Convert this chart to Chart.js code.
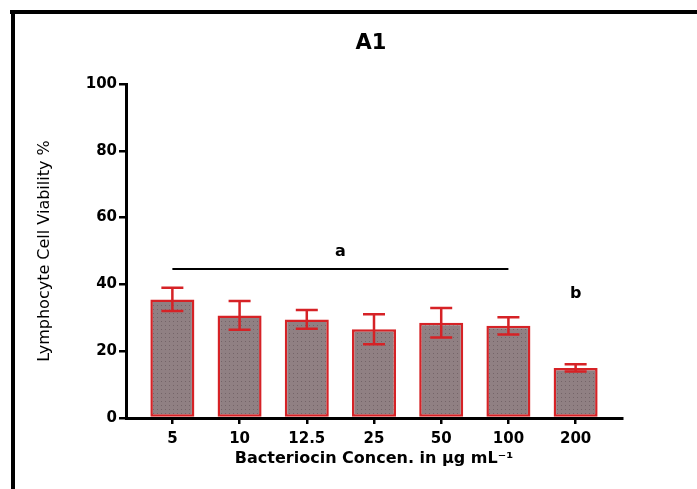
<!DOCTYPE html>
<html>
<head>
<meta charset="utf-8">
<script src="https://cdn.jsdelivr.net/npm/chart.js@4.4.1/dist/chart.umd.min.js"></script>
<style>
  html, body { margin: 0; padding: 0; background: #fff; }
  #wrap { width: 697px; height: 489px; }
</style>
</head>
<body>
<div id="wrap"><canvas id="chart" width="697" height="489"></canvas></div>
<script>
const xLabels = ["5", "10", "12.5", "25", "50", "100", "200"];
const viability = [35.5, 30.7, 29.5, 26.6, 28.5, 27.6, 15.0];
const viabilitySd = [3.5, 4.3, 2.8, 4.5, 4.4, 2.6, 1.1];
const groupLetters = ["a", "b"];

const RED = "rgb(214, 34, 38)";
const FONT = "'DejaVu Sans', Verdana, sans-serif";

// dotted grey fill like the original prism bars
const makePattern = () => {
  const c = document.createElement("canvas");
  c.width = 4;
  c.height = 4;
  const g = c.getContext("2d");
  g.fillStyle = "rgb(144, 128, 131)";
  g.fillRect(0, 0, 4, 4);
  g.fillStyle = "rgb(116, 100, 104)";
  g.fillRect(1, 1, 1, 1);
  return g.createPattern(c, "repeat");
};

const framePlugin = {
  id: "frame",
  beforeDraw: (chart) => {
    const ctx = chart.ctx;
    ctx.save();
    ctx.fillStyle = "#fff";
    ctx.fillRect(0, 0, chart.width, chart.height);
    ctx.fillStyle = "#000";
    ctx.fillRect(10, 10, chart.width - 10, 4);
    ctx.fillRect(11, 10, 4, chart.height - 10);
    ctx.restore();
  },
};

const errorBarPlugin = {
  id: "errorBars",
  afterDatasetsDraw: (chart) => {
    const ctx = chart.ctx;
    const y = chart.scales.y;
    const meta = chart.getDatasetMeta(0);
    ctx.save();
    ctx.strokeStyle = RED;
    ctx.lineWidth = 2.5;
    meta.data.forEach((bar, i) => {
      const top = y.getPixelForValue(viability[i] + viabilitySd[i]);
      const bottom = y.getPixelForValue(viability[i] - viabilitySd[i]);
      const half = 11;
      ctx.beginPath();
      ctx.moveTo(bar.x, top);
      ctx.lineTo(bar.x, bottom);
      ctx.moveTo(bar.x - half, top);
      ctx.lineTo(bar.x + half, top);
      ctx.moveTo(bar.x - half, bottom);
      ctx.lineTo(bar.x + half, bottom);
      ctx.stroke();
    });
    ctx.restore();
  },
};

const annotationPlugin = {
  id: "annotations",
  afterDraw: (chart) => {
    const ctx = chart.ctx;
    const x = chart.scales.x;
    const y = chart.scales.y;
    ctx.save();
    // title
    ctx.fillStyle = "#000";
    ctx.font = "bold 21px " + FONT;
    ctx.textAlign = "center";
    ctx.textBaseline = "middle";
    ctx.fillText("A1", 371, 44);

    // significance bracket over the first six bars
    const lineY = y.getPixelForValue(44.6);
    ctx.strokeStyle = "#000";
    ctx.lineWidth = 2;
    ctx.beginPath();
    ctx.moveTo(x.getPixelForValue(0), lineY);
    ctx.lineTo(x.getPixelForValue(5), lineY);
    ctx.stroke();

    ctx.font = "bold 16px " + FONT;
    ctx.fillText(groupLetters[0], x.getPixelForValue(2.5), y.getPixelForValue(49.8));
    ctx.fillText(groupLetters[1], x.getPixelForValue(6), y.getPixelForValue(37.3));
    ctx.restore();
  },
};

const createChartOptions = () => {
  const tickFont = { family: FONT, size: 15, weight: "bold" };

  const scales = {
    x: {
      type: "linear",
      min: -0.69,
      max: 6.69,
      offset: false,
      afterFit: (scale) => {
        scale.height = 51;
      },
      border: { display: true, color: "#000", width: 3 },
      grid: {
        offset: false,
        drawOnChartArea: false,
        drawTicks: true,
        tickLength: 6,
        color: "#000",
        lineWidth: 2.5,
      },
      ticks: {
        stepSize: 1,
        includeBounds: false,
        autoSkip: false,
        maxRotation: 0,
        padding: 6,
        color: "#000",
        font: tickFont,
        callback: (v) => (Number.isInteger(v) ? xLabels[v] : ""),
      },
      title: {
        display: true,
        text: "Bacteriocin Concen. in µg mL⁻¹",
        color: "#000",
        font: { family: FONT, size: 16, weight: "bold" },
        padding: { top: 0, bottom: 1 },
      },
    },
    y: {
      min: 0,
      max: 100,
      afterFit: (scale) => {
        scale.width = 106;
      },
      border: { display: true, color: "#000", width: 3 },
      grid: {
        drawOnChartArea: false,
        drawTicks: true,
        tickLength: 7,
        color: "#000",
        lineWidth: 2.5,
      },
      ticks: {
        stepSize: 20,
        padding: 2,
        color: "#000",
        font: tickFont,
      },
      title: {
        display: true,
        text: "Lymphocyte Cell Viability %",
        color: "#000",
        font: { family: FONT, size: 16, weight: "normal" },
        padding: { top: 15, bottom: 0 },
      },
    },
  };

  return {
    responsive: false,
    animation: false,
    layout: { padding: { top: 84, right: 75, bottom: 20, left: 20 } },
    plugins: { legend: { display: false }, tooltip: { enabled: false } },
    scales,
  };
};

document.addEventListener("DOMContentLoaded", () => {
  new Chart(document.getElementById("chart"), {
    type: "bar",
    data: {
      datasets: [
        {
          data: viability.map((v, i) => ({ x: i, y: v })),
          backgroundColor: makePattern(),
          borderColor: RED,
          borderWidth: 2.5,
          borderSkipped: false,
          categoryPercentage: 1,
          barPercentage: 0.655,
        },
      ],
    },
    options: createChartOptions(),
    plugins: [framePlugin, errorBarPlugin, annotationPlugin],
  });
});
</script>
</body>
</html>
